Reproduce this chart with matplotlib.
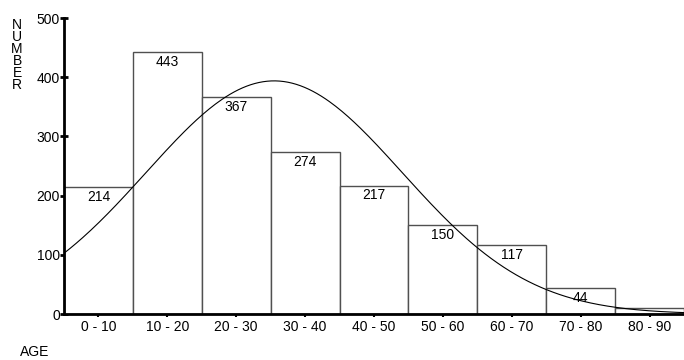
import numpy as np
import matplotlib
matplotlib.use("Agg")
import matplotlib.pyplot as plt

plt.rcParams['font.family'] = ['Liberation Sans', 'DejaVu Sans']

# histogram data
age_groups = ['0 - 10', '10 - 20', '20 - 30', '30 - 40', '40 - 50',
              '50 - 60', '60 - 70', '70 - 80', '80 - 90']
bin_left = [0, 10, 20, 30, 40, 50, 60, 70, 80]
counts = [214, 443, 367, 274, 217, 150, 117, 44, 10]
show_label = [True, True, True, True, True, True, True, True, False]

# fitted normal curve parameters
curve_mu = 30.5
curve_sigma = 18.6

fig = plt.figure(figsize=(6.84, 3.6), dpi=100)
ax = fig.add_axes([64 / 684, 1 - 314 / 360, 620 / 684, 296 / 360])

ax.bar(bin_left, counts, width=10, align='edge', facecolor='white',
       edgecolor='#505050', linewidth=1.0, zorder=2)

for x0, c, s in zip(bin_left, counts, show_label):
    if s:
        ax.text(x0 + 5, c - 5, str(c), ha='center', va='top', fontsize=10, zorder=4)

total = sum(counts)
xs = np.linspace(0, 90, 300)
ys = total * 10 / (curve_sigma * np.sqrt(2 * np.pi)) * np.exp(-0.5 * ((xs - curve_mu) / curve_sigma) ** 2)
ax.plot(xs, ys, color='black', linewidth=0.8, zorder=3)

ax.set_xlim(0, 90)
ax.set_ylim(0, 500)
ax.set_xticks([x + 5 for x in bin_left])
ax.set_xticklabels(age_groups, fontsize=10)
ax.set_yticks([0, 100, 200, 300, 400, 500])
ax.tick_params(axis='y', direction='inout', length=6, width=2, labelsize=10, pad=0)
ax.tick_params(axis='x', direction='out', length=2, width=1.5, labelsize=10, pad=2)

for side in ['top', 'right']:
    ax.spines[side].set_visible(False)
ax.spines['left'].set_linewidth(2)
ax.spines['bottom'].set_linewidth(2)

fig.text(17 / 684, 1 - 55 / 360, 'N\nU\nM\nB\nE\nR', ha='center', va='center',
         fontsize=10, linespacing=0.82)
fig.text(20 / 684, 1 - 352 / 360, 'AGE', ha='left', va='center', fontsize=10)

fig.savefig('out.png', dpi=100)
